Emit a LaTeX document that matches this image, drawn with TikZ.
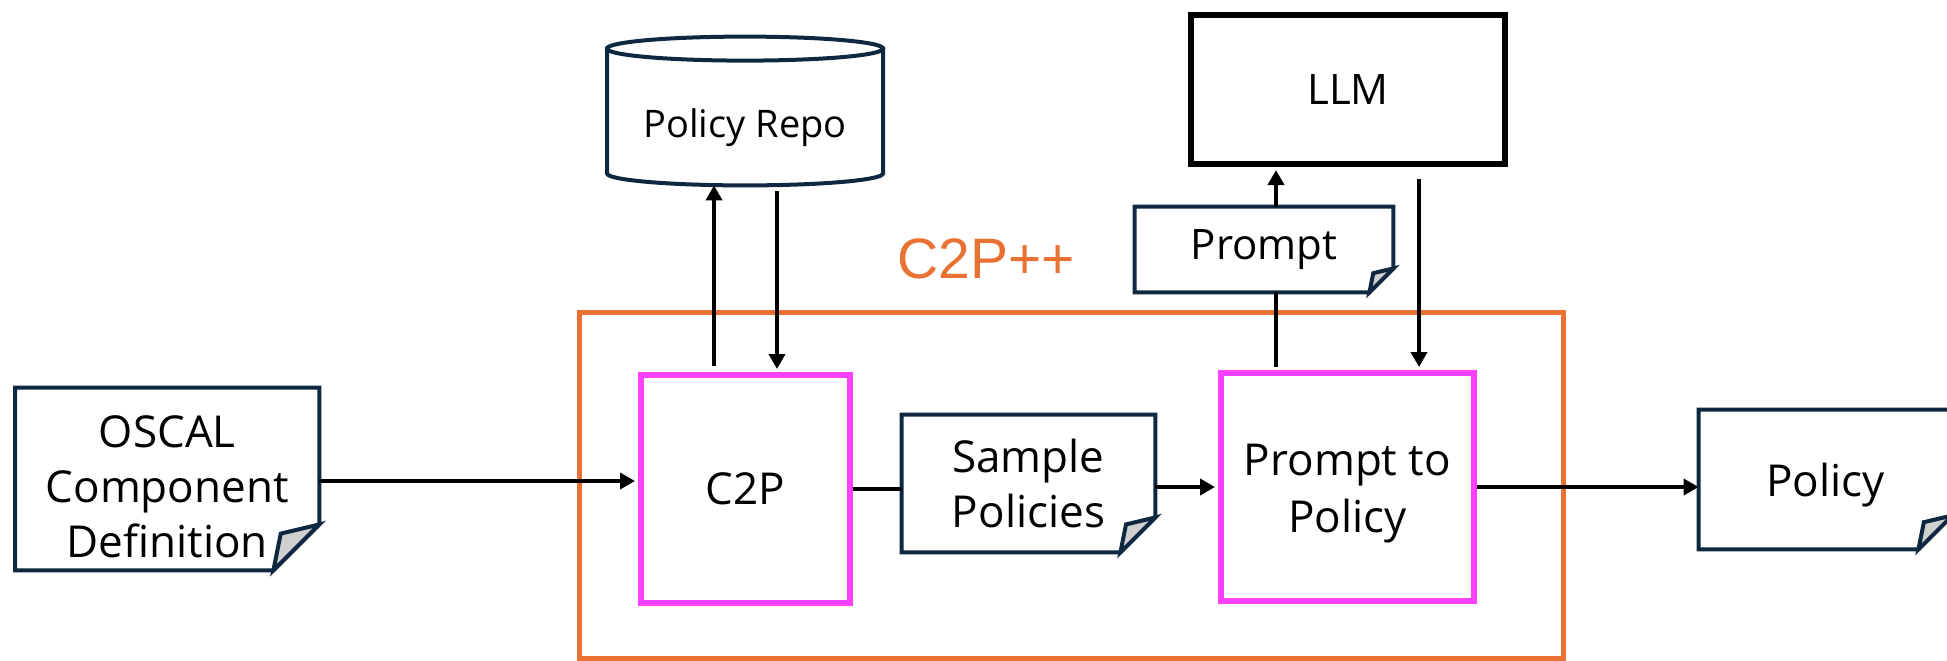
\documentclass[tikz,border=0pt]{standalone}
\usepackage{fontspec}
\setmainfont{Open Sans}
\newfontfamily\titlefont{Liberation Sans}
\usetikzlibrary{arrows.meta,calc}
\pgfdeclarelayer{background}
\pgfsetlayers{background,main}

\definecolor{docnavy}{HTML}{0E2841}
\definecolor{c2porange}{HTML}{E97132}
\definecolor{stepmagenta}{HTML}{FF40FF}
\definecolor{foldgrey}{HTML}{D0D0D0}

\tikzset{
  docline/.style={draw=docnavy, line width=2pt, line join=miter},
  docnode/.style={inner sep=0pt, align=center, font=\fontsize{22pt}{27.5pt}\selectfont},
  stepbox/.style={draw=stepmagenta, line width=3pt, inner sep=0pt, align=center,
    font=\fontsize{22pt}{28.5pt}\selectfont},
  arr/.style={draw=black, line width=2pt, -{Triangle[length=7.5pt,width=8pt]}},
  plainline/.style={draw=black, line width=2pt},
}

% document shape with a folded bottom-right corner, drawn behind the node text
\newcommand\docfold[2]{%
  \begin{pgfonlayer}{background}
    \draw[docline, fill=white] (#1.north west) -- (#1.north east)
      -- ($(#1.south east)+(0pt,#2)$) -- ($(#1.south east)+(-#2,0pt)$)
      -- (#1.south west) -- cycle;
    \draw[docline, fill=foldgrey] ($(#1.south east)+(0pt,#2)$)
      -- ($(#1.south east)+(-#2,0pt)$)
      -- ($(#1.south east)+(-0.84*#2,0.8*#2)$) -- cycle;
  \end{pgfonlayer}}

\begin{document}
\begin{tikzpicture}[x=0.5pt, y=-0.5pt]
  \begin{pgfonlayer}{background}
    \fill[white] (0,0) rectangle (1947,660);
  \end{pgfonlayer}
  \useasboundingbox (0,0) rectangle (1947,660);

  % C2P++ container
  \node[draw=c2porange, line width=2.5pt, minimum width=492pt, minimum height=173pt,
        inner sep=0pt] (cpp) at (1071.5,485.5) {};
  \node[text=c2porange, font=\titlefont\fontsize{28.5pt}{34pt}\selectfont] (cpplabel)
        at (986,259) {C2P++};

  % documents
  \node[docnode, minimum width=151.75pt, minimum height=91pt] (oscal) at (167.25,479)
        {\rule{0pt}{24pt}OSCAL\\Component\\Definition};
  \docfold{oscal}{23pt}
  \node[docnode, minimum width=126.5pt, minimum height=68.5pt] (samp) at (1028.5,483.5)
        {Sample\\Policies};
  \docfold{samp}{17.5pt}
  \node[docnode, minimum width=129pt, minimum height=42.5pt,
        font=\fontsize{21pt}{26pt}\selectfont] (prompt) at (1264,249.5) {Prompt};
  \docfold{prompt}{12pt}
  \node[docnode, minimum width=126.5pt, minimum height=69.5pt,
        text height=16.5pt, text depth=-1pt] (policy) at (1825.5,479.5) {Policy};
  \docfold{policy}{17pt}

  % policy repository (cylinder)
  \node[inner sep=0pt, minimum width=138pt, minimum height=62pt, text depth=0pt,
        font=\fontsize{19pt}{24pt}\selectfont] (repo) at (745,123) {Policy Repo};
  \begin{pgfonlayer}{background}
    \coordinate (repotop) at ($(repo.north)+(0pt,6pt)$);
    \coordinate (repobot) at ($(repo.south)+(0pt,6pt)$);
    \draw[docline, fill=white] ($(repotop)+(-69pt,0pt)$) -- ($(repobot)+(-69pt,0pt)$)
      arc[start angle=180, end angle=360, x radius=69pt, y radius=6pt]
      -- ($(repotop)+(69pt,0pt)$) -- cycle;
    \draw[docline, fill=white] (repotop) ellipse[x radius=69pt, y radius=6pt];
  \end{pgfonlayer}

  % processing steps
  \node[stepbox, minimum width=104.5pt, minimum height=114pt] (c2p) at (745.5,489) {C2P};
  \node[stepbox, minimum width=126.5pt, minimum height=114pt] (p2p) at (1347.5,487)
        {\rule{0pt}{22.5pt}Prompt to\\Policy};
  \node[draw=black, line width=3pt, minimum width=157pt, minimum height=74.5pt,
        inner sep=0pt, font=\fontsize{21pt}{26pt}\selectfont] (llm) at (1348,89.5) {LLM};

  % vertical connector positions
  \coordinate (upx) at (714,0);
  \coordinate (downx) at (777,0);
  \coordinate (promptx) at (1276,0);
  \coordinate (llmx) at (1419,0);

  % connectors
  \draw[arr, shorten >=1.5pt] (oscal.east |- 0,481) -- (c2p.west |- 0,481);
  \draw[arr, shorten <=3pt] (c2p.north -| upx) -- (repo.south -| upx);
  \draw[arr, shorten <=3pt, shorten >=1.5pt] (repo.south -| downx) -- (c2p.north -| downx);
  \draw[plainline] (c2p.east) -- (c2p.east -| samp.west);
  \draw[arr, shorten >=1.5pt] (samp.east |- p2p.west) -- (p2p.west);
  \draw[plainline, shorten <=1.5pt] (p2p.north -| promptx) -- (prompt.south -| promptx);
  \draw[arr, shorten >=1.5pt] (prompt.north -| promptx) -- (llm.south -| promptx);
  \draw[arr, shorten <=6pt, shorten >=1.5pt] (llm.south -| llmx) -- (p2p.north -| llmx);
  \draw[arr] (p2p.east) -- (p2p.east -| policy.west);
\end{tikzpicture}
\end{document}
